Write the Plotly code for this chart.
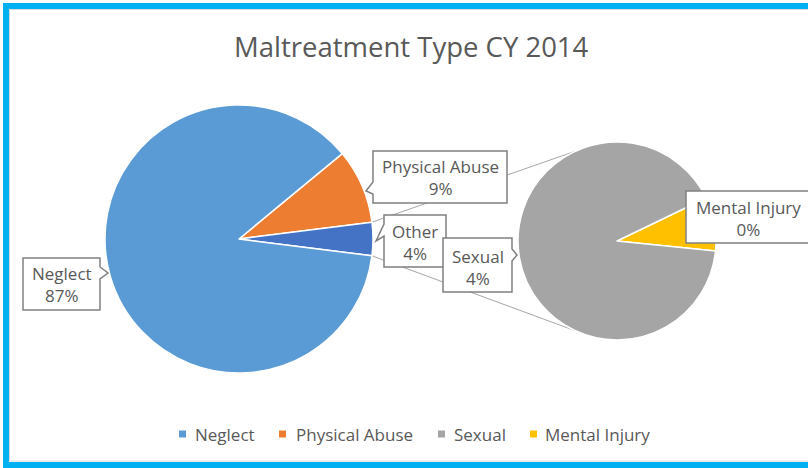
import plotly.graph_objects as go
import math

# ---------------- data ----------------
categories = ["Neglect", "Physical Abuse", "Sexual", "Mental Injury"]
values = [87.0, 9.0, 3.65, 0.35]
colors = ["#5B9BD5", "#ED7D31", "#A5A5A5", "#FFC000"]
other_label = "Other"
other_color = "#4472C4"
title_text = "Maltreatment Type CY 2014"

# ---------------- helpers ----------------
W, H = 808, 468
def px(x):
    return x / W
def py(y):
    return 1 - y / H

total = sum(values)
pct = [round(v / total * 100) for v in values]
neglect, physical, sexual, mental = values
other = sexual + mental

TXT = "#595959"
FONT = "Open Sans"

# left pie geometry (pixels)
c1x, c1y, r1 = 239, 239, 134
# right pie geometry (pixels)
c2x, c2y, r2 = 617, 241, 99

other_deg = other / total * 360
phys_deg = physical / total * 360
rot_left = 90 - other_deg / 2 - phys_deg
mental_deg = mental / other * 360
rot_right = 80 - mental_deg / 2

fig = go.Figure()

fig.add_trace(go.Pie(
    labels=["Physical Abuse", other_label, "Neglect"],
    values=[physical, other, neglect],
    marker=dict(colors=[colors[1], other_color, colors[0]], line=dict(color="white", width=1.5)),
    sort=False, direction="clockwise", rotation=rot_left,
    textinfo="none", hoverinfo="label+percent", showlegend=False,
    domain=dict(x=[px(c1x - r1), px(c1x + r1)], y=[py(c1y + r1), py(c1y - r1)]),
))

fig.add_trace(go.Pie(
    labels=["Mental Injury", "Sexual"],
    values=[mental, sexual],
    marker=dict(colors=[colors[3], colors[2]], line=dict(color="white", width=1.5)),
    sort=False, direction="clockwise", rotation=rot_right,
    textinfo="none", hoverinfo="label+value", showlegend=False,
    domain=dict(x=[px(c2x - r2), px(c2x + r2)], y=[py(c2y + r2), py(c2y - r2)]),
))

shapes = []
# connector lines between pies
half = math.radians(other_deg / 2)
conn_ang = math.radians(115)
for s in (1, -1):
    xa = c1x + r1 * math.cos(half)
    ya = c1y - s * r1 * math.sin(half)
    xb = c2x + r2 * math.cos(conn_ang)
    yb = c2y - s * r2 * math.sin(conn_ang)
    shapes.append(dict(type="line", xref="paper", yref="paper",
                       x0=px(xa), y0=py(ya), x1=px(xb), y1=py(yb),
                       line=dict(color="#A6A6A6", width=1), layer="below"))

def callout(x0, y0, x1, y1, notch=None):
    pts = [(x0, y0), (x1, y0)]
    if notch and notch[0] == "right":
        _, a, tx, ty, b = notch
        pts += [(x1, a), (tx, ty), (x1, b)]
    pts += [(x1, y1), (x0, y1)]
    if notch and notch[0] == "left":
        _, a, tx, ty, b = notch
        pts += [(x0, b), (tx, ty), (x0, a)]
    d = "M " + " L ".join(f"{px(x):.5f},{py(y):.5f}" for x, y in pts) + " Z"
    return dict(type="path", xref="paper", yref="paper", path=d,
                fillcolor="white", line=dict(color="#808080", width=1.5), layer="above")

shapes.append(callout(373, 151, 507, 203, ("left", 182, 366, 191, 194)))
shapes.append(callout(384, 215, 446, 267, ("left", 224, 376, 241, 236)))
shapes.append(callout(443, 238, 512, 292, ("right", 249, 517, 255, 261)))
shapes.append(callout(23, 258, 100, 310, ("right", 267, 108, 273, 279)))
shapes.append(callout(686, 191, 840, 243))

# legend squares
leg_sq_x = [179, 279, 438, 530]
leg_txt_x = [193, 294, 452, 543]
leg_y = 434
for i in range(4):
    shapes.append(dict(type="rect", xref="paper", yref="paper",
                       x0=px(leg_sq_x[i]), x1=px(leg_sq_x[i] + 7),
                       y0=py(leg_y + 3.5), y1=py(leg_y - 3.5),
                       fillcolor=colors[i], line=dict(width=0)))

# chart frame
shapes.append(dict(type="rect", xref="paper", yref="paper",
                   x0=px(9.5), y0=py(461), x1=px(840), y1=py(9.5),
                   line=dict(color="#D9D9D9", width=1)))
shapes.append(dict(type="rect", xref="paper", yref="paper",
                   x0=px(6), y0=py(465), x1=px(840), y1=py(6),
                   line=dict(color="#00B0F0", width=6)))

annotations = []
def label(x, y, text, size=17):
    annotations.append(dict(x=px(x), y=py(y), xref="paper", yref="paper", text=text,
                            showarrow=False, xanchor="center", yanchor="middle",
                            font=dict(family=FONT, size=size, color=TXT)))

label(440, 177, f"Physical Abuse<br>{pct[1]}%")
label(415, 242, f"{other_label}<br>{round(other / total * 100)}%")
label(478, 267, f"Sexual<br>{pct[2]}%")
label(62, 284, f"Neglect<br>{pct[0]}%")
label(748, 218, f"Mental Injury<br>{pct[3]}%")
label(411, 47, title_text, size=27.5)

for i in range(4):
    annotations.append(dict(x=px(leg_txt_x[i]), y=py(leg_y), xref="paper", yref="paper",
                            text=categories[i], showarrow=False, xanchor="left", yanchor="middle",
                            font=dict(family=FONT, size=17, color=TXT)))

fig.update_layout(
    width=W, height=H, margin=dict(l=0, r=0, t=0, b=0),
    paper_bgcolor="white", plot_bgcolor="white",
    shapes=shapes, annotations=annotations, showlegend=False,
)

fig.write_html("out.html", config={"displayModeBar": False},
               post_script="document.body.style.margin='0';document.body.style.overflow='hidden';")
